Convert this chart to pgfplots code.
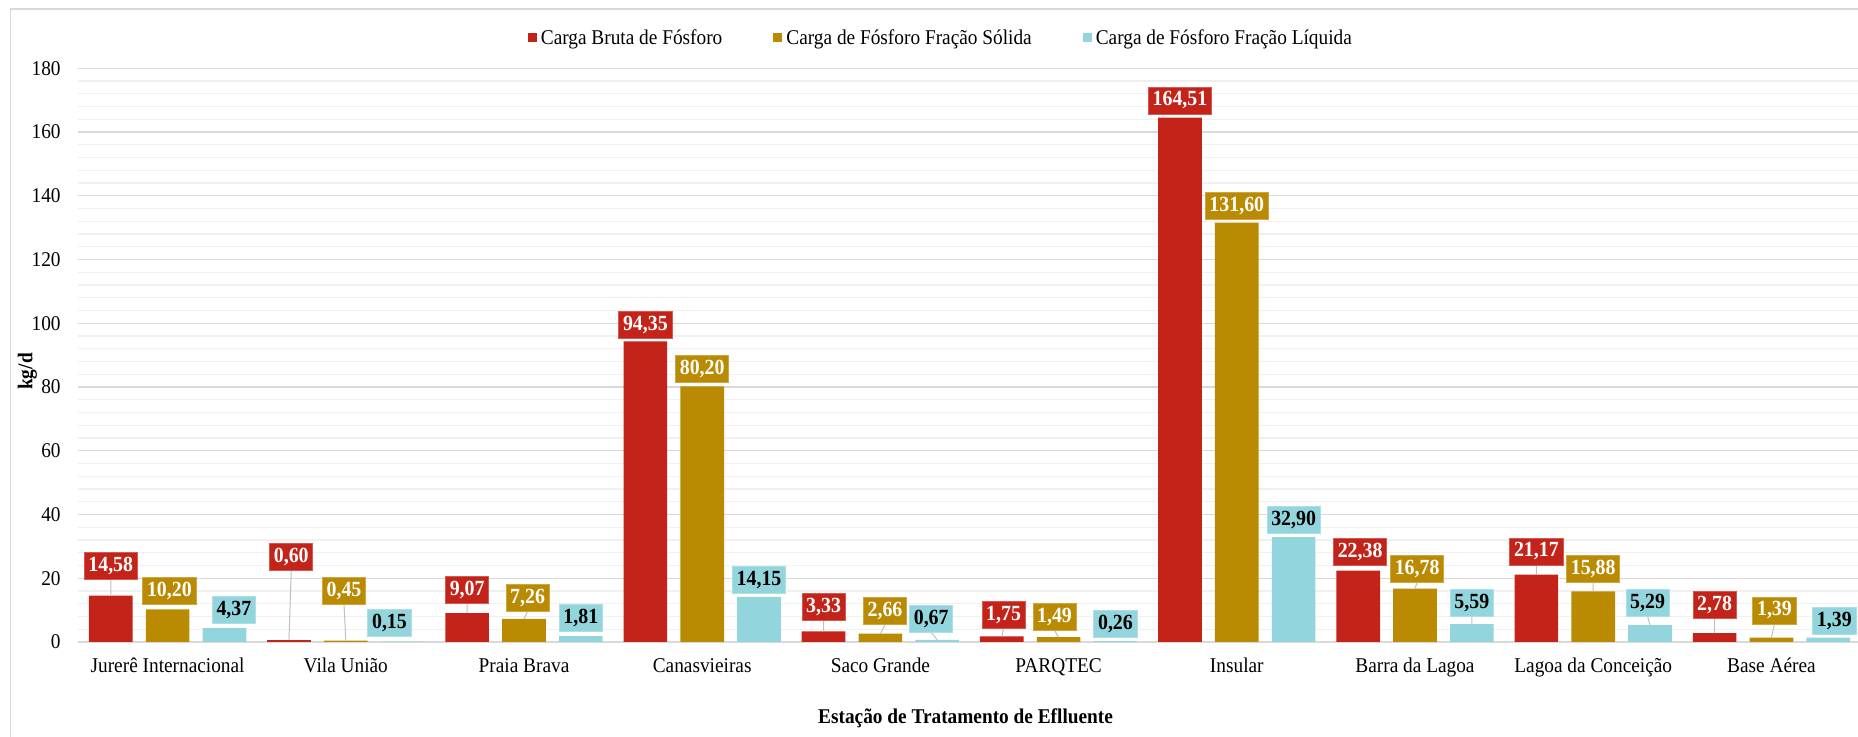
\documentclass[border=0pt]{standalone}
\usepackage{pgfplots}
\pgfplotsset{compat=1.18}
\usepackage{pgfplotstable}
\usepackage{fontspec}
\setmainfont{Liberation Serif}[FakeStretch=0.92]
\definecolor{cred}{HTML}{C32318}
\definecolor{cgold}{HTML}{BB8A03}
\definecolor{ccyan}{HTML}{92D5DD}
\definecolor{cmajor}{HTML}{D9D9D9}
\definecolor{cminor}{HTML}{F0F0F0}
\definecolor{clead}{HTML}{BFBFBF}
\definecolor{cframe}{HTML}{D9D9D9}

\pgfplotstableread{
x red gold cyan
0 14.58 10.20 4.37
1 0.60 0.45 0.15
2 9.07 7.26 1.81
3 94.35 80.20 14.15
4 3.33 2.66 0.67
5 1.75 1.49 0.26
6 164.51 131.60 32.90
7 22.38 16.78 5.59
8 21.17 15.88 5.29
9 2.78 1.39 1.39
}\bars

\pgfplotstableread{
lx ly lab
-0.319 23.8 14,58
0.694 26.7 0,60
1.681 16.3 9,07
2.681 99.6 94,35
3.681 11.1 3,33
4.691 8.5 1,75
5.681 169.9 164,51
6.692 28.2 22,38
7.681 28.4 21,17
8.681 11.5 2,78
}\redlab

\pgfplotstableread{
lx ly lab
0.010 16.1 10,20
0.990 15.9 0,45
2.020 13.9 7,26
3.000 85.6 80,20
4.026 9.6 2,66
4.977 7.9 1,49
6.000 136.8 131,60
7.012 23.0 16,78
8.000 23.0 15,88
9.017 9.9 1,39
}\goldlab

\pgfplotstableread{
lx ly lab
0.372 10.1 4,37
1.245 6.0 0,15
2.319 7.6 1,81
3.319 19.5 14,15
4.285 7.3 0,67
5.319 5.8 0,26
6.319 38.2 32,90
7.319 12.3 5,59
8.305 12.3 5,29
9.353 6.6 1,39
}\cyanlab

\pgfplotsset{
  sqlegend/.style={legend image code/.code={\fill[##1] (0pt,-1.6pt) rectangle (4.5pt,2.9pt);}},
  lblstyle/.style={nodes near coords, point meta=explicit symbolic,
    nodes near coords align={center},
    nodes near coords style={fill=#1, draw=#1!75!white, line width=0.4pt, font=\bfseries\fontsize{10.8}{12}\selectfont,
      inner xsep=2.1pt, inner ysep=0pt, minimum height=13.5pt,
      text height=7.3pt, text depth=1.8pt, anchor=center}},
}

\begin{document}
\begin{tikzpicture}[font=\fontsize{10.5}{12.6}\selectfont]
\begin{axis}[
  at={(0pt,0pt)}, anchor=south west,
  scale only axis, width=891pt, height=286.85pt,
  xmin=-0.5, xmax=9.5, ymin=0, ymax=180,
  xtick={0,...,9},
  xticklabels={Jurerê Internacional, Vila União, Praia Brava, Canasvieiras, Saco Grande, PARQTEC, Insular, Barra da Lagoa, Lagoa da Conceição, Base Aérea},
  ytick={0,20,...,180}, minor y tick num=4,
  ymajorgrids, yminorgrids,
  major grid style={cmajor, line width=0.6pt},
  minor grid style={cminor, line width=0.6pt},
  axis line style={draw=none},
  tick style={draw=none},
  /pgf/number format/assume math mode=true,
  xticklabel style={anchor=base, yshift=-15.1pt},
  yticklabel style={anchor=east, inner xsep=0pt, xshift=-8.75pt},
  xlabel={Estação de Tratamento de Eflluente},
  xlabel style={at={(axis description cs:0.4978,-0.1429)}, anchor=base, font=\bfseries\fontsize{10.5}{12.6}\selectfont},
  ylabel={kg/d},
  ylabel style={at={(axis description cs:-0.02862,0.4715)}, anchor=center, font=\bfseries\fontsize{10.5}{12.6}\selectfont},
  legend columns=3,
  legend cell align=left,
  legend style={at={(axis description cs:0.4845,1.052)}, anchor=center, draw=none, fill=none,
    font=\fontsize{10.5}{12.6}\selectfont,
    /tikz/every even column/.append style={column sep=23.5pt}},
]
\addplot[ybar, bar width=21.83pt, bar shift=-28.42pt, fill=cred, draw=none, sqlegend] table[x=x, y=red] {\bars};
\addlegendentry{Carga Bruta de Fósforo}
\addplot[ybar, bar width=21.83pt, bar shift=0pt, fill=cgold, draw=none, sqlegend] table[x=x, y=gold] {\bars};
\addlegendentry{Carga de Fósforo Fração Sólida}
\addplot[ybar, bar width=21.83pt, bar shift=28.42pt, fill=ccyan, draw=none, sqlegend] table[x=x, y=cyan] {\bars};
\addlegendentry{Carga de Fósforo Fração Líquida}

\addplot[draw=clead, line width=0.5pt, unbounded coords=jump, forget plot] coordinates {
(-0.319,14.58) (-0.319,19.56) (nan,nan)
(0.681,0.60) (0.694,22.46) (nan,nan)
(1.681,9.07) (1.681,12.06) (nan,nan)
(3.681,3.33) (3.681,6.86) (nan,nan)
(4.681,1.75) (4.691,4.26) (nan,nan)
(7.681,21.17) (7.681,24.16) (nan,nan)
(8.681,2.78) (8.681,7.26) (nan,nan)
(1,0.45) (0.99,11.66) (nan,nan)
(2,7.26) (2.02,9.66) (nan,nan)
(4,2.66) (4.026,5.36) (nan,nan)
(5,1.49) (4.977,3.66) (nan,nan)
(7,16.78) (7.012,18.76) (nan,nan)
(8,15.88) (8,18.76) (nan,nan)
(9,1.39) (9.017,5.66) (nan,nan)
(4.319,0.67) (4.285,3.06) (nan,nan)
(7.319,5.59) (7.319,8.06) (nan,nan)
(8.319,5.29) (8.305,8.06)
};

\addplot[only marks, mark=none, forget plot, lblstyle=cred, nodes near coords style={text=white}] table[x=lx, y=ly, meta=lab] {\redlab};
\addplot[only marks, mark=none, forget plot, lblstyle=cgold, nodes near coords style={text=white}] table[x=lx, y=ly, meta=lab] {\goldlab};
\addplot[only marks, mark=none, forget plot, lblstyle=ccyan, nodes near coords style={text=black}] table[x=lx, y=ly, meta=lab] {\cyanlab};
\end{axis}
\draw[cframe, line width=0.6pt] (-34pt,-80pt) rectangle (920pt,316.5pt);
\pgfresetboundingbox
\path[use as bounding box] (-39.25pt,-47.5pt) rectangle (889.75pt,321pt);
\end{tikzpicture}
\end{document}
